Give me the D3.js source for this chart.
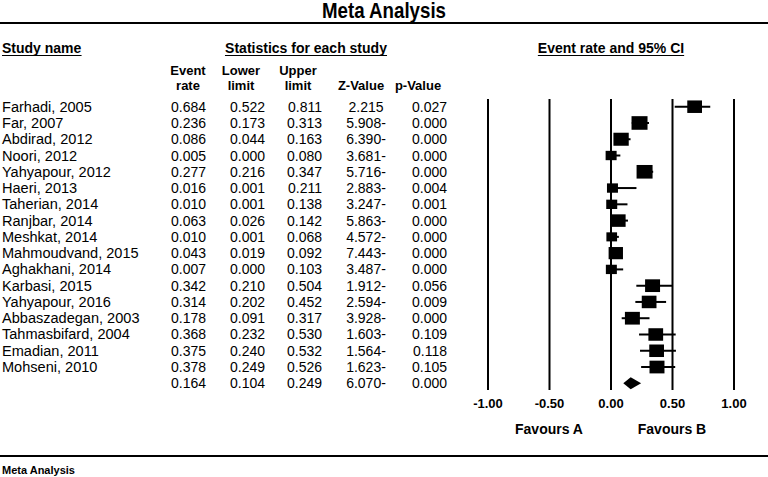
<!DOCTYPE html>
<html><head><meta charset="utf-8">
<script src="https://cdn.jsdelivr.net/npm/d3@7"></script>
<style>
html,body{margin:0;padding:0;background:#fff;}
svg{display:block;}
</style></head>
<body>
<svg id="chart" width="768" height="477"></svg>
<script>
// ---------- data ----------
const studies = ["Farhadi, 2005","Far, 2007","Abdirad, 2012","Noori, 2012","Yahyapour, 2012","Haeri, 2013","Taherian, 2014","Ranjbar, 2014","Meshkat, 2014","Mahmoudvand, 2015","Aghakhani, 2014","Karbasi, 2015","Yahyapour, 2016","Abbaszadegan, 2003","Tahmasbifard, 2004","Emadian, 2011","Mohseni, 2010"];
const eventRate = [0.684,0.236,0.086,0.005,0.277,0.016,0.010,0.063,0.010,0.043,0.007,0.342,0.314,0.178,0.368,0.375,0.378];
const lowerLimit = [0.522,0.173,0.044,0.000,0.216,0.001,0.001,0.026,0.001,0.019,0.000,0.210,0.202,0.091,0.232,0.240,0.249];
const upperLimit = [0.811,0.313,0.163,0.080,0.347,0.211,0.138,0.142,0.068,0.092,0.103,0.504,0.452,0.317,0.530,0.532,0.526];
const zValue = ["2.215","5.908-","6.390-","3.681-","5.716-","2.883-","3.247-","5.863-","4.572-","7.443-","3.487-","1.912-","2.594-","3.928-","1.603-","1.564-","1.623-"];
const pValue = ["0.027","0.000","0.000","0.000","0.000","0.004","0.001","0.000","0.000","0.000","0.000","0.056","0.009","0.000","0.109","0.118","0.105"];
const weights = [6.1,7.2,6.6,3.4,7.2,3.4,3.4,6.1,3.2,5.8,3.4,6.3,6.1,6.3,6.1,6.1,6.3];
const summary = {rate:0.164, lower:0.104, upper:0.249, z:"6.070-", p:"0.000"};
const tickValues = [-1, -0.5, 0, 0.5, 1];
const favours = [{label:"Favours A", at:-0.5},{label:"Favours B", at:0.5}];

// ---------- layout ----------
const svg = d3.select("#chart");
const W = 768;
const bodyFont = "'Liberation Sans', Arial, sans-serif";
const boldFont = "'Liberation Sans Narrow', 'Arial Narrow', 'Liberation Sans', Arial, sans-serif";

function txt(x, y, s, o) {
  o = o || {};
  return svg.append("text")
    .attr("transform", `translate(${x},${y}) scale(${o.sx||1},1)`)
    .attr("text-anchor", o.anchor || "start")
    .attr("font-family", o.font || bodyFont)
    .attr("font-weight", o.bold ? "bold" : "normal")
    .attr("font-size", o.size || 14)
    .attr("fill", "#000")
    .text(s);
}

// title and rules
txt(W/2, 18, "Meta Analysis", {anchor:"middle", bold:true, size:22, sx:0.85, font:boldFont});
svg.append("line").attr("x1",0).attr("x2",W).attr("y1",23).attr("y2",23).attr("stroke","#000").attr("stroke-width",2);
svg.append("line").attr("x1",0).attr("x2",W).attr("y1",456).attr("y2",456).attr("stroke","#000").attr("stroke-width",2);
txt(2, 474, "Meta Analysis", {bold:true, size:11, font:boldFont});

// section headers (underlined)
const heads = [
  {s:"Study name", x:2, a:"start"},
  {s:"Statistics for each study", x:306, a:"middle"},
  {s:"Event rate and 95% CI", x:611, a:"middle"}
];
heads.forEach(h => {
  const t = txt(h.x, 53, h.s, {anchor:h.a, bold:true, size:14, font:boldFont});
  const bb = t.node().getBBox();
  let x0 = h.x, w = bb.width;
  if (h.a === "middle") x0 = h.x - w/2;
  svg.append("line").attr("x1",x0).attr("x2",x0+w).attr("y1",55.5).attr("y2",55.5).attr("stroke","#000").attr("stroke-width",1.2);
});

// column headers
const cols = [
  {l1:"Event", l2:"rate", x:188},
  {l1:"Lower", l2:"limit", x:241},
  {l1:"Upper", l2:"limit", x:298},
  {l1:"", l2:"Z-Value", x:361},
  {l1:"", l2:"p-Value", x:418}
];
cols.forEach(c => {
  if (c.l1) txt(c.x, 75, c.l1, {anchor:"middle", bold:true, size:13, font:boldFont});
  txt(c.x, 90, c.l2, {anchor:"middle", bold:true, size:13, font:boldFont});
});

// rows
const rowIdx = d3.range(studies.length + 1);
const y = d3.scalePoint().domain(rowIdx).range([106.7, 383.3]);
const fmt = v => v.toFixed(3);

studies.forEach((s, i) => {
  const yy = y(i) + 5;
  txt(2, yy, s, {sx:1.04});
  txt(206, yy, fmt(eventRate[i]), {anchor:"end"});
  txt(265, yy, fmt(lowerLimit[i]), {anchor:"end"});
  txt(322, yy, fmt(upperLimit[i]), {anchor:"end"});
  txt(366, yy, zValue[i], {anchor:"middle"});
  txt(447, yy, pValue[i], {anchor:"end"});
});
{
  const yy = y(studies.length) + 5;
  txt(206, yy, fmt(summary.rate), {anchor:"end"});
  txt(265, yy, fmt(summary.lower), {anchor:"end"});
  txt(322, yy, fmt(summary.upper), {anchor:"end"});
  txt(366, yy, summary.z, {anchor:"middle"});
  txt(447, yy, summary.p, {anchor:"end"});
}

// forest plot
const x = d3.scaleLinear().domain([-1, 1]).range([487.5, 733.5]);
const lineTop = 99, lineBot = 390;
const axis = d3.axisBottom(x).tickValues(tickValues).tickSize(-(lineBot - lineTop))
  .tickPadding(9).tickFormat(d => d.toFixed(2));
const ag = svg.append("g").attr("transform", `translate(0,${lineBot})`).call(axis);
ag.select(".domain").remove();
ag.selectAll(".tick line").attr("stroke", "#000").attr("stroke-width", 2);
ag.selectAll(".tick text").attr("font-family", bodyFont).attr("font-weight", "bold")
  .attr("font-size", 13).attr("fill", "#000");

favours.forEach(f => txt(x(f.at), 434, f.label, {anchor:"middle", bold:true, size:14}));

const size = d3.scaleSqrt().domain([0, d3.max(weights)]).range([0, 16]);
const plot = svg.append("g");
plot.selectAll("line.ci").data(studies).join("line")
  .attr("x1", (d,i) => x(lowerLimit[i])).attr("x2", (d,i) => x(upperLimit[i]))
  .attr("y1", (d,i) => y(i)).attr("y2", (d,i) => y(i))
  .attr("stroke", "#000").attr("stroke-width", 2);
plot.selectAll("rect.pt").data(studies).join("rect")
  .attr("x", (d,i) => x(eventRate[i]) - size(weights[i])/2)
  .attr("y", (d,i) => y(i) - size(weights[i])*0.85/2)
  .attr("width", (d,i) => size(weights[i]))
  .attr("height", (d,i) => size(weights[i])*0.85)
  .attr("fill", "#000");

// summary diamond
const ys = y(studies.length);
plot.append("path")
  .attr("d", `M${x(summary.lower)},${ys} L${x(summary.rate)},${ys-6} L${x(summary.upper)},${ys} L${x(summary.rate)},${ys+6} Z`)
  .attr("fill", "#000");
</script>
</body></html>
